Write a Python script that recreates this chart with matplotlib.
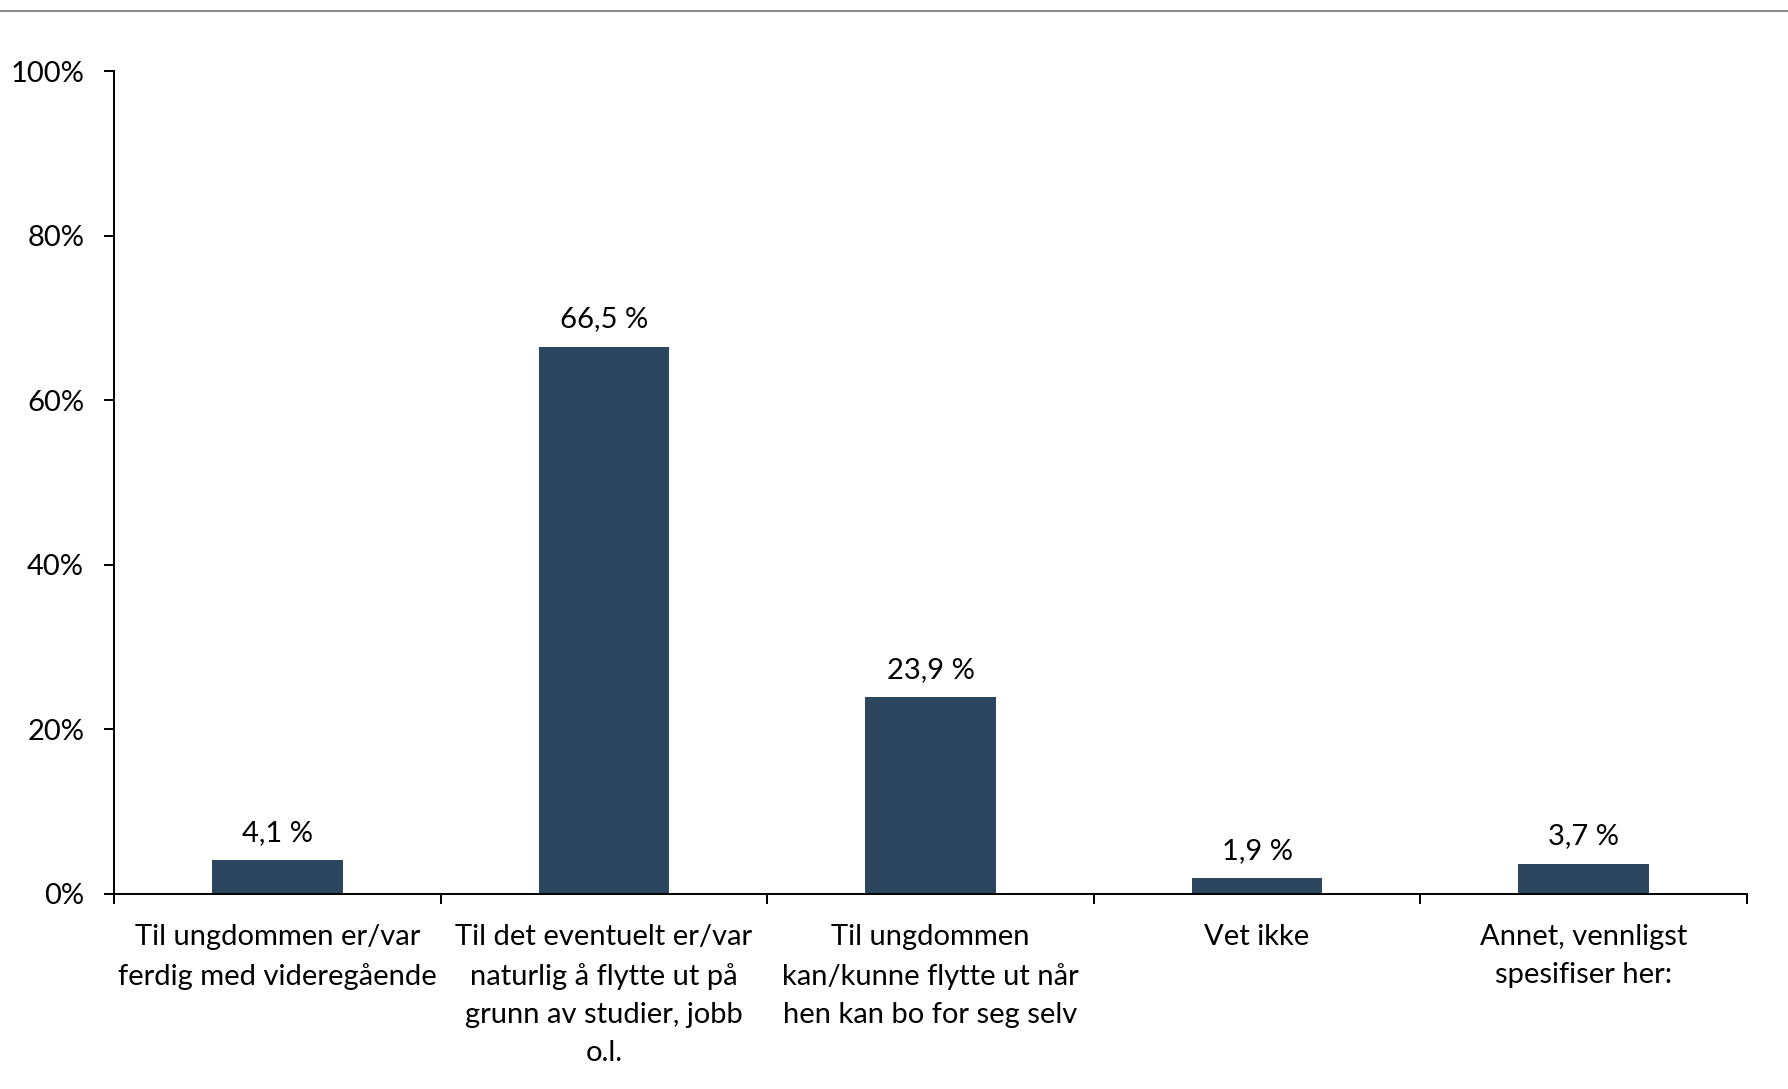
import matplotlib
matplotlib.use("Agg")
import matplotlib.pyplot as plt
from matplotlib.lines import Line2D
import numpy as np

categories = [
    "Til ungdommen er/var\nferdig med videregående",
    "Til det eventuelt er/var\nnaturlig å flytte ut på\ngrunn av studier, jobb\no.l.",
    "Til ungdommen\nkan/kunne flytte ut når\nhen kan bo for seg selv",
    "Vet ikke",
    "Annet, vennligst\nspesifiser her:",
]
values = [4.1, 66.5, 23.9, 1.9, 3.7]
value_labels = ["4,1 %", "66,5 %", "23,9 %", "1,9 %", "3,7 %"]
yticks = [0, 20, 40, 60, 80, 100]
ytick_labels = ["0%", "20%", "40%", "60%", "80%", "100%"]

plt.rcParams['font.family'] = ['Lato', 'DejaVu Sans']
W, H = 1788, 1089
fig = plt.figure(figsize=(W/100, H/100), dpi=100)
ax = fig.add_axes([114/W, 1-894/H, (1747-114)/W, (894-71)/H])

FS = 21
x = np.arange(len(categories))
bars = ax.bar(x, values, width=0.40, color="#2D4660", zorder=2)
for xi, v, lab in zip(x, values, value_labels):
    ax.annotate(lab, (xi, v), xytext=(0, 10.5), textcoords="offset points",
                ha="center", va="bottom", fontsize=FS, color="#000000")

ax.set_xlim(-0.5, len(categories)-0.5)
ax.set_ylim(0, 100)
ax.set_yticks(yticks)
ax.set_yticklabels(ytick_labels, fontsize=FS)
ax.set_xticks(x)
ax.set_xticklabels(categories, fontsize=FS, linespacing=1.58)
ax.set_xticks(np.arange(len(categories)+1)-0.5, minor=True)
ax.tick_params(axis='x', which='major', length=0, pad=21.5)
ax.tick_params(axis='x', which='minor', length=7.5, width=1.4, direction='out')
ax.tick_params(axis='y', length=7.5, width=1.4, direction='out', pad=14)
for s in ['top', 'right']:
    ax.spines[s].set_visible(False)
for s in ['left', 'bottom']:
    ax.spines[s].set_linewidth(1.4)
    ax.spines[s].set_color('#000000')

fig.add_artist(Line2D([0, 1], [1-10.5/H, 1-10.5/H], color='#8C8C8C', linewidth=1.5,
                      transform=fig.transFigure))

fig.savefig("out.png", dpi=100)
